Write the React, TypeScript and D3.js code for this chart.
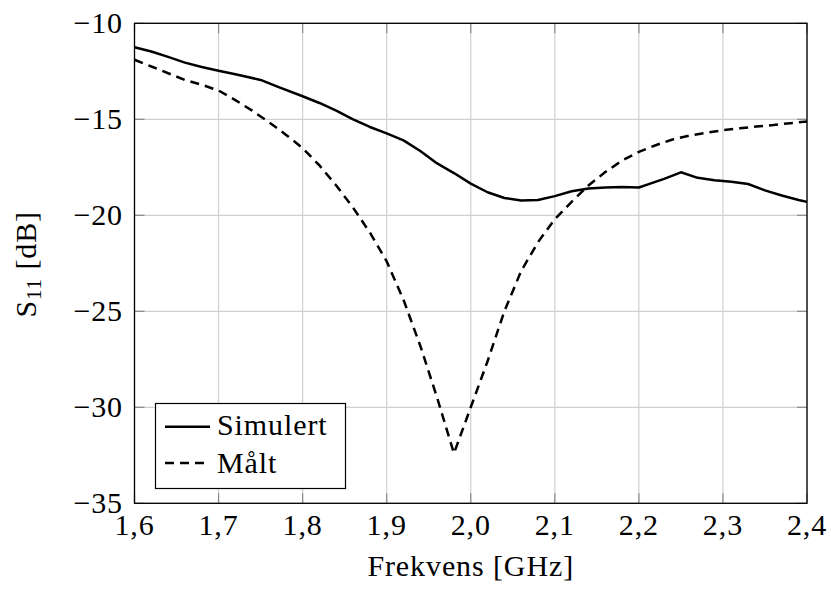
import React from "react";
import * as d3 from "d3";

const freqSim = [1.6, 1.62, 1.64, 1.66, 1.68, 1.7, 1.72, 1.75, 1.77, 1.8, 1.82, 1.84, 1.86, 1.88, 1.9, 1.92, 1.94, 1.96, 1.98, 2.0, 2.02, 2.04, 2.06, 2.08, 2.1, 2.12, 2.14, 2.16, 2.18, 2.2, 2.21, 2.23, 2.25, 2.27, 2.29, 2.31, 2.33, 2.35, 2.37, 2.39, 2.4];
const s11Sim = [-11.25, -11.47, -11.75, -12.05, -12.28, -12.47, -12.65, -12.95, -13.3, -13.8, -14.15, -14.55, -15.0, -15.4, -15.73, -16.1, -16.65, -17.3, -17.8, -18.35, -18.8, -19.1, -19.23, -19.2, -19.0, -18.75, -18.6, -18.55, -18.53, -18.55, -18.4, -18.1, -17.76, -18.05, -18.18, -18.25, -18.37, -18.7, -18.97, -19.2, -19.3];

const freqMeas = [1.6, 1.62, 1.64, 1.66, 1.68, 1.7, 1.72, 1.74, 1.76, 1.78, 1.8, 1.82, 1.84, 1.86, 1.88, 1.9, 1.92, 1.94, 1.96, 1.98, 2.0, 2.02, 2.04, 2.06, 2.08, 2.1, 2.12, 2.14, 2.16, 2.18, 2.2, 2.22, 2.24, 2.26, 2.28, 2.3, 2.32, 2.34, 2.36, 2.38, 2.4];
const s11Meas = [-11.9, -12.25, -12.6, -12.95, -13.2, -13.5, -14.0, -14.55, -15.15, -15.8, -16.5, -17.4, -18.45, -19.6, -20.9, -22.4, -24.4, -26.8, -29.5, -32.4, -30.0, -27.6, -25.0, -22.9, -21.4, -20.2, -19.3, -18.45, -17.75, -17.15, -16.7, -16.35, -16.05, -15.85, -15.7, -15.57, -15.47, -15.38, -15.3, -15.2, -15.12];

const xTicks = [1.6, 1.7, 1.8, 1.9, 2.0, 2.1, 2.2, 2.3, 2.4];
const yTicks = [-10, -15, -20, -25, -30, -35];

const seriesNames = ["Simulert", "Målt"];
const xLabel = "Frekvens [GHz]";

const W = 831;
const H = 596;
const left = 134.5;
const right = 807;
const top = 23.3;
const bottom = 503.3;
const FONT = "Liberation Serif, Tinos, Times New Roman, DejaVu Serif, serif";
const FS = 30;
const LS = 0.9;

export default function App() {
  const x = d3.scaleLinear().domain([1.6, 2.4]).range([left, right]);
  const y = d3.scaleLinear().domain([-35, -10]).range([bottom, top]);

  const line = d3
    .line<[number, number]>()
    .x((d) => x(d[0]))
    .y((d) => y(d[1]))
    .curve(d3.curveLinear);

  const simData: [number, number][] = freqSim.map((f, i) => [f, s11Sim[i]]);
  const measData: [number, number][] = freqMeas.map((f, i) => [f, s11Meas[i]]);

  const fmtX = (v: number) => v.toFixed(1).replace(".", ",");
  const fmtY = (v: number) => (v < 0 ? "\u2212" + Math.abs(v) : String(v));

  const tickLen = 10;
  const gridColor = "#d0d0d0";
  const tickColor = "#8a8a8a";
  const textStyle = { fontFamily: FONT, letterSpacing: LS + "px" };

  return (
    <svg
      width={W}
      height={H}
      style={{ position: "absolute", left: 0, top: 0, background: "#fff", fontFamily: FONT }}
    >
      <rect x={0} y={0} width={W} height={H} fill="#fff" />
      {xTicks.map((t) => (
        <line key={"gx" + t} x1={x(t)} x2={x(t)} y1={top} y2={bottom} stroke={gridColor} strokeWidth={1.2} />
      ))}
      {yTicks.map((t) => (
        <line key={"gy" + t} x1={left} x2={right} y1={y(t)} y2={y(t)} stroke={gridColor} strokeWidth={1.2} />
      ))}
      {xTicks.map((t) => (
        <g key={"tx" + t}>
          <line x1={x(t)} x2={x(t)} y1={bottom} y2={bottom - tickLen} stroke={tickColor} strokeWidth={1.2} />
          <line x1={x(t)} x2={x(t)} y1={top} y2={top + tickLen} stroke={tickColor} strokeWidth={1.2} />
        </g>
      ))}
      {yTicks.map((t) => (
        <g key={"ty" + t}>
          <line x1={left} x2={left + tickLen} y1={y(t)} y2={y(t)} stroke={tickColor} strokeWidth={1.2} />
          <line x1={right} x2={right - tickLen} y1={y(t)} y2={y(t)} stroke={tickColor} strokeWidth={1.2} />
        </g>
      ))}
      <path d={line(simData) || ""} fill="none" stroke="#000" strokeWidth={2.5} strokeLinejoin="round" />
      <path d={line(measData) || ""} fill="none" stroke="#000" strokeWidth={2.5} strokeDasharray="9 6" />
      <rect x={left} y={top} width={right - left} height={bottom - top} fill="none" stroke="#000" strokeWidth={1.3} />
      {xTicks.map((t) => (
        <text key={"lx" + t} x={x(t)} y={535} textAnchor="middle" fontSize={FS} fill="#000" style={textStyle}>
          {fmtX(t)}
        </text>
      ))}
      {yTicks.map((t) => (
        <text key={"ly" + t} x={123} y={y(t) + 10} textAnchor="end" fontSize={FS} fill="#000" style={textStyle}>
          {fmtY(t)}
        </text>
      ))}
      <text x={(left + right) / 2} y={576} textAnchor="middle" fontSize={FS} fill="#000" style={textStyle}>
        {xLabel}
      </text>
      <text transform={`translate(36, ${(top + bottom) / 2 + 1}) rotate(-90)`} textAnchor="middle" fontSize={FS} fill="#000" style={textStyle}>
        S<tspan fontSize={21} dy={5}>11</tspan>
        <tspan dy={-5}> [dB]</tspan>
      </text>
      <rect x={155.5} y={403.5} width={190} height={85} fill="#fff" stroke="#000" strokeWidth={1.2} />
      <line x1={165} x2={210} y1={426.7} y2={426.7} stroke="#000" strokeWidth={2.5} />
      <line x1={165} x2={206} y1={463} y2={463} stroke="#000" strokeWidth={2.5} strokeDasharray="9 6" />
      <text x={217} y={435} fontSize={FS} fill="#000" style={textStyle}>
        {seriesNames[0]}
      </text>
      <text x={217} y={473} fontSize={FS} fill="#000" style={textStyle}>
        {seriesNames[1]}
      </text>
    </svg>
  );
}
